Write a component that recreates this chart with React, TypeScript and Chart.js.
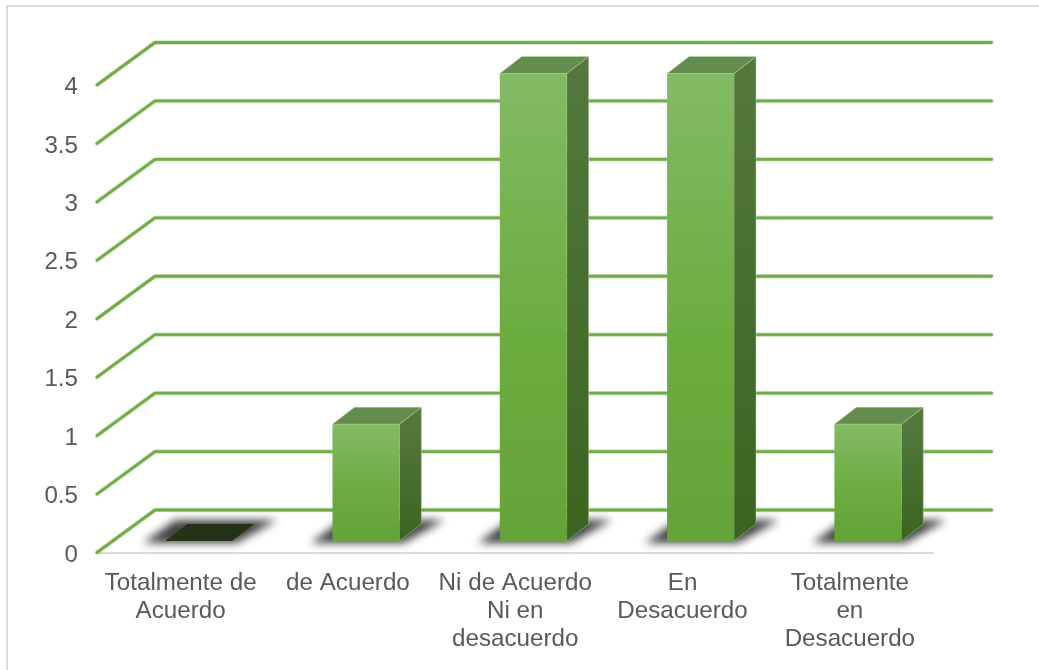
import React, { useEffect, useRef } from "react";
import { Chart, registerables } from "chart.js";

Chart.register(...registerables);

const categories = [
  ["Totalmente de", "Acuerdo"],
  ["de Acuerdo"],
  ["Ni de Acuerdo", "Ni en", "desacuerdo"],
  ["En", "Desacuerdo"],
  ["Totalmente", "en", "Desacuerdo"],
];
const responses = [0, 1, 4, 4, 1];

// Oblique projection used for the walls and for the bars' depth.
const WALL_DX = 58;
const WALL_DY = -42.5;
const BAR_SHIFT_X = 18;
const BAR_SHIFT_Y = -11.5;
const DEPTH_DX = 22;
const DEPTH_DY = -17;

const GRID_GREEN = "#70ad47";
const EDGE_LIGHT = "rgba(190,220,170,0.55)";
const FONT = '"Liberation Sans", Arial, sans-serif';

function poly(ctx: CanvasRenderingContext2D, pts: number[][], fill: any, edge?: string) {
  ctx.beginPath();
  pts.forEach(([x, y], i) => (i ? ctx.lineTo(x, y) : ctx.moveTo(x, y)));
  ctx.closePath();
  ctx.fillStyle = fill;
  ctx.fill();
  if (edge) {
    ctx.strokeStyle = edge;
    ctx.lineWidth = 0.8;
    ctx.stroke();
  }
}

const walls3d = {
  id: "walls3d",
  beforeDatasetsDraw(chart: any) {
    const { ctx, scales } = chart;
    const xs = scales.x;
    const ys = scales.y;

    // panel outline: only the top and left edges fall inside the canvas
    ctx.save();
    ctx.strokeStyle = "#dcdcdc";
    ctx.lineWidth = 2;
    ctx.beginPath();
    ctx.moveTo(7, 670);
    ctx.lineTo(7, 6);
    ctx.lineTo(1039, 6);
    ctx.stroke();

    // side wall and back wall rules at every tick, with a soft halo
    ctx.lineCap = "round";
    ctx.lineJoin = "round";
    const rule = (y: number) => {
      ctx.beginPath();
      ctx.moveTo(xs.left, y);
      ctx.lineTo(xs.left + WALL_DX, y + WALL_DY);
      ctx.lineTo(xs.right + WALL_DX, y + WALL_DY);
      ctx.stroke();
    };
    ys.ticks.forEach((t: any) => {
      const y = ys.getPixelForValue(t.value);
      ctx.strokeStyle = "rgba(112,173,71,0.35)";
      ctx.lineWidth = 4.4;
      rule(y);
      ctx.strokeStyle = GRID_GREEN;
      ctx.lineWidth = 2.8;
      rule(y);
    });
    ctx.restore();

    // floor shadows
    const meta = chart.getDatasetMeta(0);
    const base = ys.getPixelForValue(0) + BAR_SHIFT_Y;
    ctx.save();
    ctx.filter = "blur(4px)";
    meta.data.forEach((bar: any) => {
      const p = bar.getProps(["x", "width"], true);
      const l = p.x + BAR_SHIFT_X - p.width / 2;
      const r = p.x + BAR_SHIFT_X + p.width / 2;
      poly(
        ctx,
        [
          [l - 22, base + 2],
          [r + 4, base + 2],
          [r + 45, base - 21],
          [l + 10, base - 21],
        ],
        "rgba(45,45,45,0.9)"
      );
    });
    ctx.restore();

    // top and side faces of each bar
    meta.data.forEach((bar: any) => {
      const p = bar.getProps(["x", "y", "width"], true);
      const l = p.x + BAR_SHIFT_X - p.width / 2;
      const r = p.x + BAR_SHIFT_X + p.width / 2;
      const top = p.y + BAR_SHIFT_Y;
      const flat = Math.abs(top - base) < 0.5;
      const side = ctx.createLinearGradient(0, top, 0, base);
      side.addColorStop(0, "#54783c");
      side.addColorStop(1, "#3a6420");
      if (!flat) {
        poly(
          ctx,
          [
            [r, top],
            [r + DEPTH_DX, top + DEPTH_DY],
            [r + DEPTH_DX, base + DEPTH_DY],
            [r, base],
          ],
          side,
          EDGE_LIGHT
        );
      }
      poly(
        ctx,
        [
          [l, top],
          [r, top],
          [r + DEPTH_DX, top + DEPTH_DY],
          [l + DEPTH_DX, top + DEPTH_DY],
        ],
        flat ? "#243318" : "#648c4c",
        flat ? undefined : EDGE_LIGHT
      );
    });
  },
  beforeDatasetDraw(chart: any) {
    chart.ctx.save();
    chart.ctx.translate(BAR_SHIFT_X, BAR_SHIFT_Y);
  },
  afterDatasetDraw(chart: any) {
    chart.ctx.restore();
  },
};

export default function App() {
  const ref = useRef<HTMLCanvasElement | null>(null);

  useEffect(() => {
    const chart = new Chart(ref.current as HTMLCanvasElement, {
      type: "bar",
      data: {
        labels: categories as any,
        datasets: [
          {
            data: responses,
            clip: false as any,
            barPercentage: 0.4,
            categoryPercentage: 1,
            backgroundColor: (c: any) => {
              const ys = c.chart.scales.y;
              const fallback = "#6cac3f";
              if (!ys || typeof c.raw !== "number") return fallback;
              const y0 = ys.getPixelForValue(c.raw);
              const y1 = ys.getPixelForValue(0);
              if (!Number.isFinite(y0) || !Number.isFinite(y1)) return fallback;
              const g = c.chart.ctx.createLinearGradient(0, y0, 0, y1);
              g.addColorStop(0, "#83ba64");
              g.addColorStop(0.55, "#6cad40");
              g.addColorStop(1, "#64a337");
              return g;
            },
          } as any,
        ],
      },
      options: {
        responsive: false,
        animation: false,
        layout: { padding: { left: 0, right: 105.5, top: 85, bottom: 0 } },
        plugins: { legend: { display: false }, tooltip: { enabled: false } },
        scales: {
          x: {
            afterFit: (s: any) => {
              s.height = 117.5;
            },
            grid: { display: false },
            border: { color: "#d9d9d9", width: 2 },
            ticks: {
              color: "#595959",
              font: { family: FONT, size: 24.2, lineHeight: 1.157 },
              padding: 9,
              maxRotation: 0,
              autoSkip: false,
            },
          },
          y: {
            min: 0,
            max: 4,
            afterFit: (s: any) => {
              s.width = 97;
            },
            grid: { display: false },
            border: { display: false },
            ticks: {
              stepSize: 0.5,
              color: "#595959",
              font: { family: FONT, size: 24.2 },
              padding: 11,
              labelOffset: 2.5,
              callback: (v: any) => String(v),
            },
          },
        },
      },
      plugins: [walls3d as any],
    });
    return () => chart.destroy();
  }, []);

  return (
    <div style={{ position: "absolute", left: 0, top: 0, width: 1039, height: 670, background: "#fff" }}>
      <canvas ref={ref} width={1039} height={670} style={{ display: "block" }} />
    </div>
  );
}
